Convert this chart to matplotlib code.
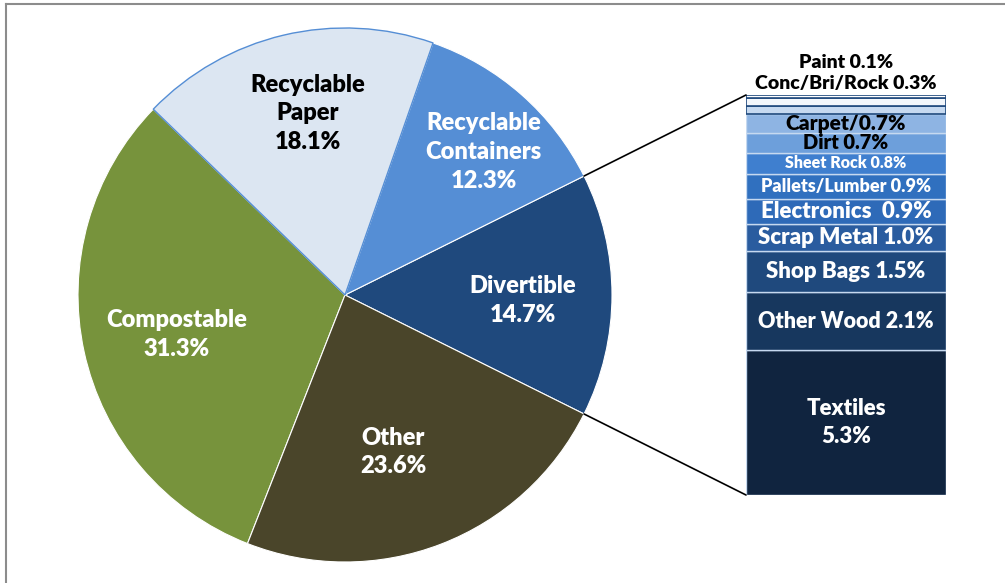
import matplotlib
matplotlib.use("Agg")
import numpy as np
import matplotlib.pyplot as plt
from matplotlib.patches import ConnectionPatch
from matplotlib.lines import Line2D

plt.rcParams['font.family'] = ['Lato', 'DejaVu Sans']
WEIGHT = "heavy"

# Main pie: waste categories (percent of total)
pie_labels = ["Divertible", "Recyclable\nContainers", "Recyclable\nPaper", "Compostable", "Other"]
pie_values = [14.7, 12.3, 18.1, 31.3, 23.6]
pie_colors = ["#1F497D", "#558ED5", "#DCE6F2", "#77933C", "#4A452A"]
pie_text_colors = ["white", "white", "black", "white", "white"]

# Breakdown of the divertible slice, bottom to top
bar_labels = ["Textiles\n5.3%", "Other Wood 2.1%", "Shop Bags 1.5%", "Scrap Metal 1.0%",
              "Electronics  0.9%", "Pallets/Lumber 0.9%", "Sheet Rock 0.8%", "Dirt 0.7%",
              "Carpet/0.7%", "", "Conc/Bri/Rock 0.3%", "Paint 0.1%"]
bar_values = [5.3, 2.1, 1.5, 1.0, 0.9, 0.9, 0.8, 0.7, 0.7, 0.3, 0.3, 0.1]
bar_colors = ["#10243F", "#17375E", "#1F497D", "#2A5C9F", "#2E6AB8", "#3070BF",
              "#3F7FCF", "#6D9FDB", "#8EB4E3", "#C6D9F0", "#F2F6FB", "#FFFFFF"]
bar_text_colors = ["white"] * 7 + ["black"] * 5
bar_font_sizes = [16, 15.5, 16, 16, 16, 13, 11.5, 14.5, 15, 0, 14, 14]

W, H = 1005, 583
fig = plt.figure(figsize=(W / 100, H / 100), dpi=100)

# Pie axes (pixel box: centre 345,295, radius 267)
cx, cy, r = 345, 295, 267
ax = fig.add_axes([(cx - r) / W, (H - cy - r) / H, 2 * r / W, 2 * r / H])
start = -pie_values[0] * 3.6 / 2
wedges, _ = ax.pie(pie_values, colors=pie_colors, startangle=start, counterclock=True,
                   radius=1.0, wedgeprops=dict(edgecolor="white", linewidth=0.8))
wedges[2].set_edgecolor("#558ED5")
wedges[2].set_linewidth(1.0)
wedges[2].set_zorder(3)
ax.set_xlim(-1, 1)
ax.set_ylim(-1, 1)
ax.set_aspect("auto")
ax.axis("off")

# Slice labels: (x, y) in pie data units, text from the data
pie_label_pos = [(0.665, -0.02), (0.52, 0.535), (-0.14, 0.68), (-0.63, -0.148), (0.18, -0.588)]
for lab, val, (lx, ly), tc in zip(pie_labels, pie_values, pie_label_pos, pie_text_colors):
    ax.text(lx, ly, f"{lab}\n{val:.1f}%", ha="center", va="center", color=tc,
            fontsize=17, fontweight=WEIGHT, linespacing=1.38)

# Stacked bar axes (pixel box: x 746-946, y 95-495)
bx0, bx1, by0, by1 = 746, 946, 95, 495
bax = fig.add_axes([bx0 / W, (H - by1) / H, (bx1 - bx0) / W, (by1 - by0) / H])
total = sum(bar_values)
bottom = 0.0
n = len(bar_values)
for i, (v, c, lab, tc, fs) in enumerate(zip(bar_values, bar_colors, bar_labels,
                                             bar_text_colors, bar_font_sizes)):
    top_group = i >= n - 3
    ec = "#1F497D" if top_group else "#C6D9F0"
    bax.bar(0, v, bottom=bottom, width=1.0, color=c, edgecolor=ec,
            linewidth=1.2 if top_group else 1.0, zorder=3 if top_group else 2)
    if lab and i < n - 2:
        bax.text(0, bottom + v / 2, lab, ha="center", va="center", color=tc,
                 fontsize=fs, fontweight=WEIGHT, linespacing=1.4)
    bottom += v
bax.set_xlim(-0.5, 0.5)
bax.set_ylim(0, total)
bax.axis("off")

# Labels of the thinnest segments sit above the bar
bax.text(0, total + 0.43, bar_labels[-2], ha="center", va="center", color="black",
         fontsize=bar_font_sizes[-2], fontweight=WEIGHT, clip_on=False)
bax.text(0, total + 1.2, bar_labels[-1], ha="center", va="center", color="black",
         fontsize=bar_font_sizes[-1], fontweight=WEIGHT, clip_on=False)

# Connector lines from the divertible slice edges to the bar corners
theta1 = np.deg2rad(wedges[0].theta1)
theta2 = np.deg2rad(wedges[0].theta2)
for th, yb in ((theta2, total), (theta1, 0)):
    con = ConnectionPatch(xyA=(np.cos(th), np.sin(th)), coordsA=ax.transData,
                          xyB=(-0.5, yb), coordsB=bax.transData,
                          color="black", linewidth=1.2)
    fig.add_artist(con)

# Outer frame (top and left edges)
fig.add_artist(Line2D([6 / W, 1], [1 - 4 / H, 1 - 4 / H], transform=fig.transFigure,
                      color="#8C8C8C", linewidth=1.5))
fig.add_artist(Line2D([6 / W, 6 / W], [0, 1 - 4 / H], transform=fig.transFigure,
                      color="#8C8C8C", linewidth=1.5))

fig.savefig("out.png", dpi=100, facecolor="white")
